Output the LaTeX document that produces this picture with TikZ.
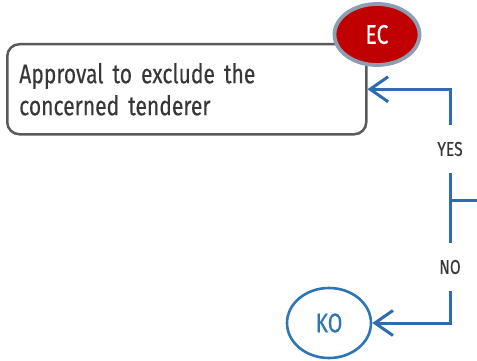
\documentclass[tikz,border=0pt]{standalone}
\usepackage{fontspec}
\setmainfont[FakeStretch=0.78,FakeBold=0.25,WordSpace=0.6]{Fira Sans}
\usetikzlibrary{arrows.meta,shapes.geometric}
\usepackage{xcolor}
\definecolor{flowblue}{RGB}{46,108,178}
\definecolor{kotext}{RGB}{46,117,182}
\definecolor{ecred}{RGB}{192,0,0}
\definecolor{ecborder}{RGB}{140,158,178}
\definecolor{boxgray}{RGB}{90,90,90}
\definecolor{textgray}{RGB}{55,55,55}

\tikzset{
  link/.style={draw=flowblue, line width=3pt},
  arrowlink/.style={link, -{Straight Barb[length=18pt,width=25pt,line width=3pt]}},
  answer/.style={text=textgray, font=\fontsize{20}{24}\selectfont, inner sep=0pt, minimum height=48pt},
}

\begin{document}
\begin{tikzpicture}[x=1pt,y=-1pt]
  \useasboundingbox (0,0) rectangle (477,361);

  \node[draw=boxgray, line width=2.5pt, rounded corners=12pt, fill=white,
        minimum width=359pt, minimum height=90pt, anchor=north west,
        text=textgray, font=\fontsize{27}{32}\selectfont, align=left, text width=335pt] (approval) at (6,43)
        {Approval to exclude the\\concerned tenderer};

  \node[ellipse, draw=ecborder, line width=3.8pt, fill=ecred, minimum width=85pt, minimum height=61pt,
        inner sep=0pt, text=white, font=\fontsize{27}{28}\selectfont] (ec) at (377,34.5) {EC};

  \node[ellipse, draw=kotext, line width=2.6pt, fill=white, minimum width=84pt, minimum height=70pt,
        inner sep=0pt, text=kotext, font=\fontsize{27}{28}\selectfont] (ko) at (329,323) {KO};

  \node[answer] (yes) at (450,149) {YES};
  \node[answer] (no) at (450,267) {NO};

  \coordinate (split) at (450,200);
  \coordinate (fromright) at (477,200);

  \draw[link] (fromright) -- (split);
  \draw[link] (yes) -- (no);
  \draw[arrowlink] (yes.north) |- (approval.east);
  \draw[arrowlink] (no.south) |- (ko.east);
\end{tikzpicture}
\end{document}
